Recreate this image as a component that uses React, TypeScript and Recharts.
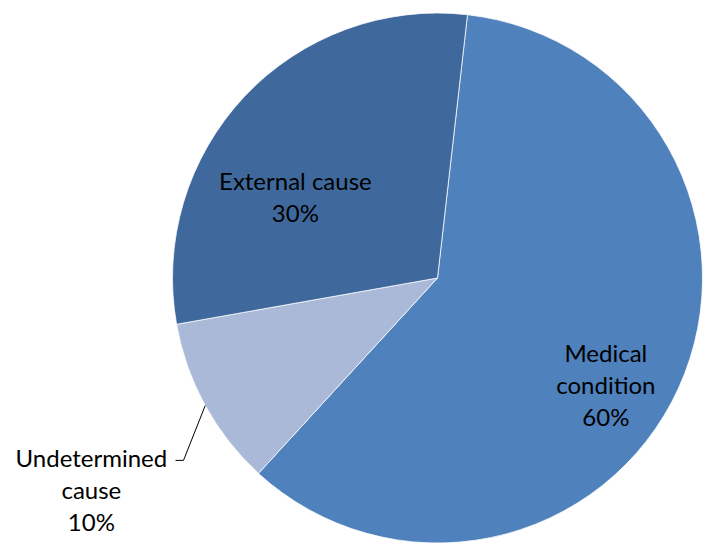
import React from "react";
import { PieChart, Pie, Cell } from "recharts";

// slices, clockwise from just right of 12 o'clock
const causes = ["Medical condition", "Undetermined cause", "External cause"];
const shares = [60, 10.4, 29.6];
const sliceColors = ["#4F81BD", "#AAB9D8", "#3F699C"];

const data = causes.map((name, i) => ({ name, value: shares[i] }));

const RAD = Math.PI / 180;
const FONT = "Lato, 'Open Sans', sans-serif";

// label placement relative to slice mid-angle (deg offset, radius factor)
const labelLayout: Record<string, { dAngle: number; rf: number; lines: string[]; outside?: boolean }> = {
  "Medical condition": { dAngle: -7.6, rf: 0.75, lines: ["Medical", "condition"] },
  "External cause": { dAngle: 13.1, rf: 0.62, lines: ["External cause"] },
  "Undetermined cause": { dAngle: 2.6, rf: 1.53, lines: ["Undetermined", "cause"], outside: true },
};

const LINE_H = 32;

function renderLabel(props: any) {
  const { cx, cy, midAngle, outerRadius, name, percent } = props;
  const cfg = labelLayout[name];
  if (!cfg) return null;
  const lines = [...cfg.lines, `${Math.round(percent * 100)}%`];
  const a = (midAngle + cfg.dAngle) * RAD;
  const x = cx + outerRadius * cfg.rf * Math.cos(a);
  const y = cy - outerRadius * cfg.rf * Math.sin(a);
  const top = y - ((lines.length - 1) * LINE_H) / 2;

  let leader = null;
  if (cfg.outside) {
    const m = midAngle * RAD;
    const sx = cx + outerRadius * Math.cos(m);
    const sy = cy - outerRadius * Math.sin(m);
    const e = (midAngle + 6.9) * RAD;
    const ex = cx + outerRadius * 1.18 * Math.cos(e);
    const ey = cy - outerRadius * 1.18 * Math.sin(e);
    leader = (
      <path
        d={`M${sx},${sy} L${ex},${ey} L${ex - 8},${ey}`}
        stroke="#000"
        strokeWidth={1}
        fill="none"
      />
    );
  }

  return (
    <g>
      {leader}
      <text
        x={x}
        y={top}
        textAnchor="middle"
        dominantBaseline="central"
        fill="#000"
        fontFamily={FONT}
        fontSize={24}
      >
        {lines.map((l, i) => (
          <tspan key={i} x={x} y={top + i * LINE_H}>
            {l}
          </tspan>
        ))}
      </text>
    </g>
  );
}

export default function App() {
  return (
    <div style={{ position: "absolute", left: 0, top: 0, width: 708, height: 544, background: "#fff" }}>
      <PieChart width={708} height={544} margin={{ top: 0, right: 0, bottom: 0, left: 0 }}>
        <Pie
          data={data}
          dataKey="value"
          nameKey="name"
          cx={437.5}
          cy={278}
          outerRadius={265}
          startAngle={83.5}
          endAngle={-276.5}
          stroke="#ffffff"
          strokeWidth={0.75}
          label={renderLabel}
          labelLine={false}
          isAnimationActive={false}
        >
          {data.map((d, i) => (
            <Cell key={d.name} fill={sliceColors[i]} />
          ))}
        </Pie>
      </PieChart>
    </div>
  );
}
